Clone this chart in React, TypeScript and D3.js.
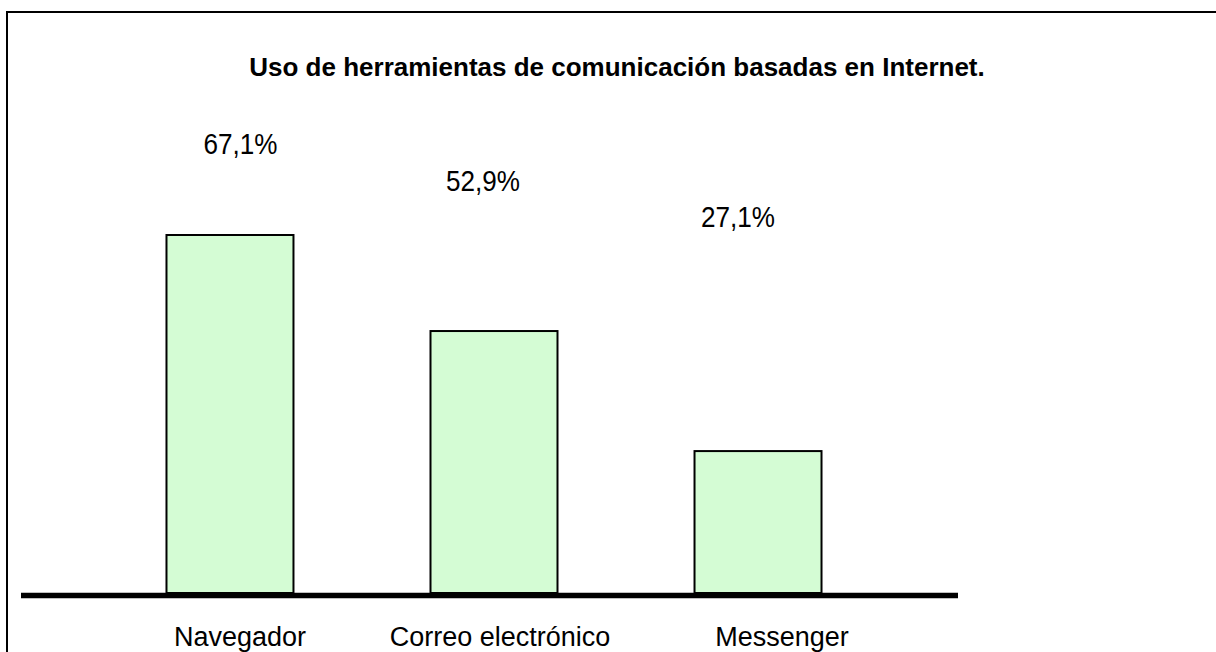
import React from "react";
import * as d3 from "d3";

// datos del gráfico
const categories = ["Navegador", "Correo electrónico", "Messenger"];
const labelValues = [67.1, 52.9, 27.1];
// alturas de barra (no coinciden con las etiquetas)
const barValues = [67.1, 49.1, 26.6];
const title = "Uso de herramientas de comunicación basadas en Internet.";

const W = 1216;
const H = 652;

// posición de etiquetas (desplazamientos respecto al centro de la barra)
const valueDx = [10.5, -11, -20];
const valueY = [154, 190.5, 227];
const catDx = [10, 6, 24];

const fmt = (v: number) => d3.format(".1f")(v).replace(".", ",") + "%";

export default function App() {
  const axisY = 593;
  const x = d3
    .scaleBand<string>()
    .domain(categories)
    .range([25.5, 962.5])
    .paddingInner(0.519)
    .paddingOuter(0.534);
  const y = d3.scaleLinear().domain([0, 67.1]).range([axisY, 235]);

  const font = "'Liberation Sans', Arial, sans-serif";

  return (
    <svg
      width={W}
      height={H}
      style={{ position: "absolute", left: 0, top: 0, background: "#fff" }}
    >
      {/* marco */}
      <rect x={7} y={12} width={W + 20} height={H + 20} fill="none" stroke="#000" strokeWidth={2} />

      <text
        x={617}
        y={76}
        textAnchor="middle"
        fontFamily={font}
        fontWeight="bold"
        fontSize={26}
        fill="#000"
      >
        {title}
      </text>

      {categories.map((c, i) => (
        <rect
          key={c}
          x={x(c)}
          y={y(barValues[i])}
          width={x.bandwidth()}
          height={axisY - y(barValues[i])}
          fill="#d4fcd4"
          stroke="#000"
          strokeWidth={2}
        />
      ))}

      {/* eje */}
      <line x1={21} x2={958} y1={595.5} y2={595.5} stroke="#000" strokeWidth={5.5} />

      {categories.map((c, i) => (
        <text
          key={"v" + c}
          x={(x(c) as number) + x.bandwidth() / 2 + valueDx[i]}
          y={valueY[i]}
          textAnchor="middle"
          fontFamily={font}
          fontSize={29}
          textLength={74}
          lengthAdjust="spacingAndGlyphs"
          fill="#000"
        >
          {fmt(labelValues[i])}
        </text>
      ))}

      {categories.map((c, i) => (
        <text
          key={"c" + c}
          x={(x(c) as number) + x.bandwidth() / 2 + catDx[i]}
          y={646}
          textAnchor="middle"
          fontFamily={font}
          fontSize={27}
          fill="#000"
        >
          {c}
        </text>
      ))}
    </svg>
  );
}
